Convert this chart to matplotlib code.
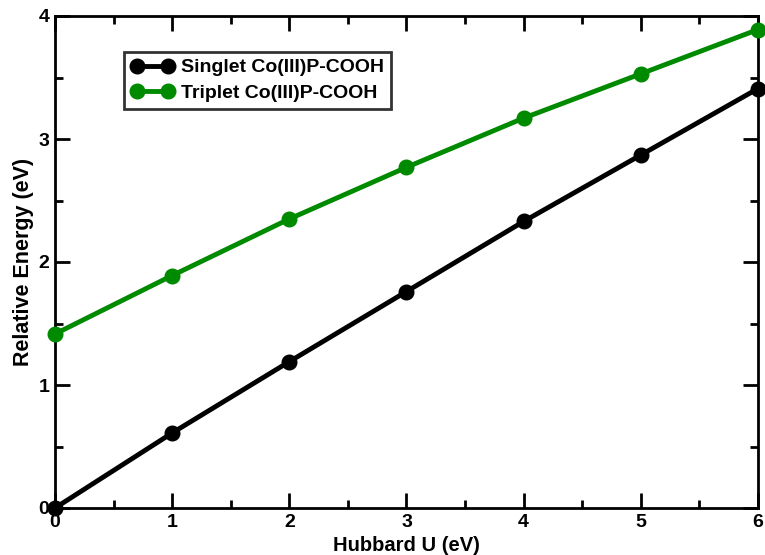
import matplotlib
matplotlib.use("Agg")
import matplotlib.pyplot as plt
from matplotlib.ticker import MultipleLocator

plt.rcParams['font.family'] = ['Liberation Sans', 'DejaVu Sans']
plt.rcParams['font.weight'] = 'bold'

hubbard_u = [0, 1, 2, 3, 4, 5, 6]
singlet = [0.0, 0.61, 1.19, 1.76, 2.33, 2.87, 3.41]
triplet = [1.415, 1.89, 2.35, 2.77, 3.17, 3.53, 3.89]

fig = plt.figure(figsize=(7.65, 5.55), dpi=100)
ax = fig.add_axes([55/765, 1 - 508/555, 703/765, 492/555])

ax.plot(hubbard_u, singlet, color='black', lw=3.5, marker='o', ms=10.5,
        label='Singlet Co(III)P-COOH', clip_on=False, zorder=3)
ax.plot(hubbard_u, triplet, color='#008a00', lw=3.5, marker='o', ms=10.5,
        label='Triplet Co(III)P-COOH', clip_on=False, zorder=3)

ax.set_xlim(0, 6)
ax.set_ylim(0, 4)
ax.xaxis.set_major_locator(MultipleLocator(1))
ax.xaxis.set_minor_locator(MultipleLocator(0.5))
ax.yaxis.set_major_locator(MultipleLocator(1))
ax.yaxis.set_minor_locator(MultipleLocator(0.5))
ax.tick_params(which='both', direction='in', top=True, right=True, width=2,
               labelsize=14, pad=4)
ax.tick_params(which='major', length=11)
ax.tick_params(which='minor', length=5.5)
for sp in ax.spines.values():
    sp.set_linewidth(2)

ax.set_xlabel('Hubbard U (eV)', fontsize=14.5, fontweight='bold', labelpad=4)
ax.set_ylabel('Relative Energy (eV)', fontsize=15.5, fontweight='bold', labelpad=3)

leg = ax.legend(loc='upper left', bbox_to_anchor=(69/703, 1 - 36/492),
                borderaxespad=0, numpoints=2,
                fontsize=14, frameon=True, fancybox=False, handlelength=2.2,
                borderpad=0.35, labelspacing=0.4, handletextpad=0.4)
leg.get_frame().set_edgecolor('black')
leg.get_frame().set_linewidth(2)

fig.savefig('out.png', dpi=100)
